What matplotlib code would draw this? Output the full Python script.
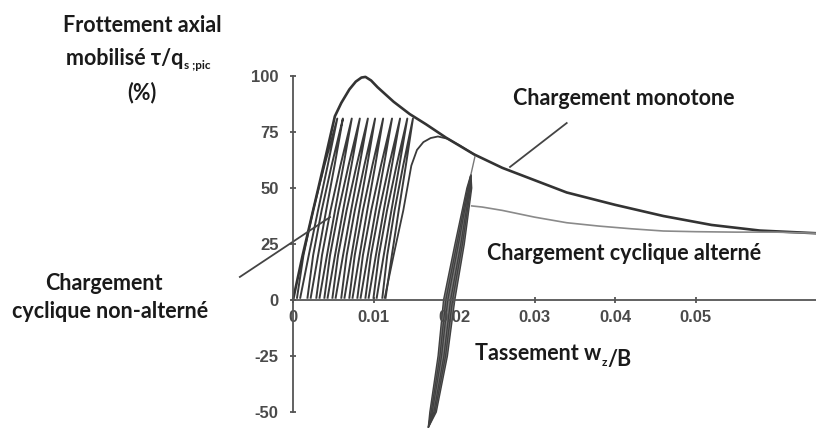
import numpy as np
import matplotlib.pyplot as plt

plt.rcParams['font.family'] = ['Lato', 'DejaVu Sans']

# courbe de chargement monotone (tassement w/B, frottement %)
mono_x = [0, 0.0012, 0.0025, 0.0038, 0.0052, 0.006, 0.007, 0.0078, 0.0085, 0.009, 0.0097,
          0.0105, 0.0125, 0.0145, 0.0165, 0.019, 0.0225, 0.026, 0.03, 0.034, 0.04, 0.046,
          0.052, 0.058, 0.065]
mono_y = [0, 20, 40, 60, 82, 88, 94, 97.5, 99.3, 99.6, 98,
          95, 88.5, 83, 78.5, 72.5, 65, 59, 53.5, 48, 42.5, 37.5,
          33.5, 31, 29.8]

# cycles non-alternés : pied et sommet de chaque boucle
cyc_base = [0.0005, 0.0018, 0.0029, 0.0039, 0.0049, 0.0060, 0.0070, 0.0080, 0.0090, 0.0100, 0.0111]
cyc_peak = [0.0055, 0.0062, 0.0073, 0.0083, 0.0093, 0.0102, 0.0112, 0.0123, 0.0133, 0.0142, 0.0149]
cyc_levels = [1, 20, 40, 60, 81]
load_frac = [0, 0.16, 0.40, 0.68, 1.0]
unload_frac = [0, 0.26, 0.52, 0.77, 1.0]
unload_shift = 0.0004

# rechargement après les cycles non-alternés
reload_x = [0.0114, 0.0125, 0.0137, 0.0147, 0.0154, 0.0162, 0.0171, 0.0180, 0.0192, 0.0207, 0.0225]
reload_y = [1, 20, 40, 60, 67, 70.5, 72.3, 73, 72, 69, 65]

# boucle des cycles alternés (axe central et demi-largeur)
alt_y = [-57, -50, -25, 0, 25, 50, 56]
alt_center = [0.0168, 0.0174, 0.0186, 0.0194, 0.0207, 0.0219, 0.0221]
alt_half = [0, 0.0004, 0.00058, 0.0007, 0.00058, 0.0003, 0]
alt_stem_x = [0.0221, 0.0226]
alt_stem_y = [56, 64]

# chargement monotone après les cycles alternés
post_x = [0.0222, 0.0235, 0.026, 0.03, 0.034, 0.038, 0.042, 0.046, 0.05, 0.055, 0.06, 0.065]
post_y = [42, 41.5, 40, 37, 34.5, 33, 31.8, 30.8, 30.5, 30.3, 30.3, 29.8]

xticks = [0, 0.01, 0.02, 0.03, 0.04, 0.05]
xtick_labels = ['0', '0.01', '0.02', '0.03', '0.04', '0.05']
yticks = [-50, -25, 0, 25, 50, 75, 100]
ytick_labels = ['-50', '-25', '0', '25', '50', '75', '100']

W, H = 816, 430
fig = plt.figure(figsize=(W / 100, H / 100), dpi=100)
ax = fig.add_axes([0, 0, 1, 1])
ax.set_xlim(-293 / 8050, (W - 293) / 8050)
ax.set_ylim((300 - H) / 2.24, 300 / 2.24)

axis_col = '#555555'
line_col = '#3a3a3a'

# axes en croix
for s in ['top', 'right']:
    ax.spines[s].set_visible(False)
ax.spines['left'].set_position(('data', 0))
ax.spines['bottom'].set_position(('data', 0))
ax.spines['left'].set_bounds(-50, 100)
ax.spines['bottom'].set_bounds(0, 0.065)
for s in ['left', 'bottom']:
    ax.spines[s].set_color(axis_col)
    ax.spines[s].set_linewidth(1.3)

ax.set_xticks(xticks)
ax.set_xticklabels(xtick_labels)
ax.set_yticks(yticks)
ax.set_yticklabels(ytick_labels)
ax.tick_params(direction='inout', length=5, width=1.3, color=axis_col,
               labelcolor='#4a4a4a', labelsize=12)
ax.tick_params(axis='y', pad=8)
ax.tick_params(axis='x', pad=5)
for lab in ax.get_xticklabels() + ax.get_yticklabels():
    lab.set_family(['Liberation Sans', 'DejaVu Sans'])
    lab.set_fontweight('bold')

# boucles non-alternées
for b, p in zip(cyc_base, cyc_peak):
    up = [b + f * (p - b) for f in load_frac]
    down = [p + f * (b + unload_shift - p) for f in unload_frac]
    ax.plot(up + down, cyc_levels + cyc_levels[::-1], color=line_col, lw=1.4,
            solid_joinstyle='round')
ax.plot(reload_x, reload_y, color=line_col, lw=1.3)

# chargement monotone
ax.plot(mono_x, mono_y, color='#333333', lw=1.9, solid_capstyle='round',
        solid_joinstyle='round')

# boucles alternées
alt_center = np.array(alt_center)
alt_half = np.array(alt_half)
for k in [1.0, 0.6, 0.25]:
    lx = np.concatenate([alt_center - k * alt_half, (alt_center + k * alt_half)[::-1]])
    ly = np.concatenate([alt_y, alt_y[::-1]])
    ax.fill(lx, ly, facecolor='#7d7d7d' if k == 1.0 else 'none', edgecolor='#404040', lw=1.0)
ax.plot(alt_stem_x, alt_stem_y, color='#777777', lw=1.0)
ax.plot(post_x, post_y, color='#8a8a8a', lw=1.2)

# lignes de rappel
ax.plot([0.034, 0.02696], [79, 59.4], color='#444444', lw=1.3)
ax.plot([-0.0066, 0.0046], [10.3, 37], color='#444444', lw=1.3)


def px(x, y):
    return x / W, 1 - y / H


txt = dict(color='#1a1a1a', fontweight='bold', fontsize=15.5)
fig.text(*px(142, 32), 'Frottement axial', ha='center', va='baseline', **txt)
t1 = fig.text(*px(66, 65), 'mobilisé τ/q', ha='left', va='baseline', **txt)
ax.annotate('s ;pic', xy=(1, 0), xycoords=t1, xytext=(0.5, 0), textcoords='offset points',
            ha='left', va='baseline', color='#1a1a1a', fontweight='bold', fontsize=8.5)
fig.text(*px(142, 99), '(%)', ha='center', va='baseline', **txt)

fig.text(*px(513, 105), 'Chargement monotone', ha='left', va='baseline', **txt)
fig.text(*px(487, 260), 'Chargement cyclique alterné', ha='left', va='baseline', **txt)
fig.text(*px(104, 290), 'Chargement', ha='center', va='baseline', **txt)
fig.text(*px(110, 318), 'cyclique non-alterné', ha='center', va='baseline', **txt)

t2 = fig.text(*px(475, 360), 'Tassement w', ha='left', va='baseline', **txt)
t3 = ax.annotate('z', xy=(1, 0), xycoords=t2, xytext=(0, -1.5), textcoords='offset points',
                 ha='left', va='baseline', color='#1a1a1a', fontweight='bold', fontsize=8.5)
ax.annotate('/B', xy=(1, 0), xycoords=t3, xytext=(0.3, 1.5), textcoords='offset points',
            ha='left', va='baseline', **txt)

fig.savefig('out.png', dpi=100, facecolor='white')
